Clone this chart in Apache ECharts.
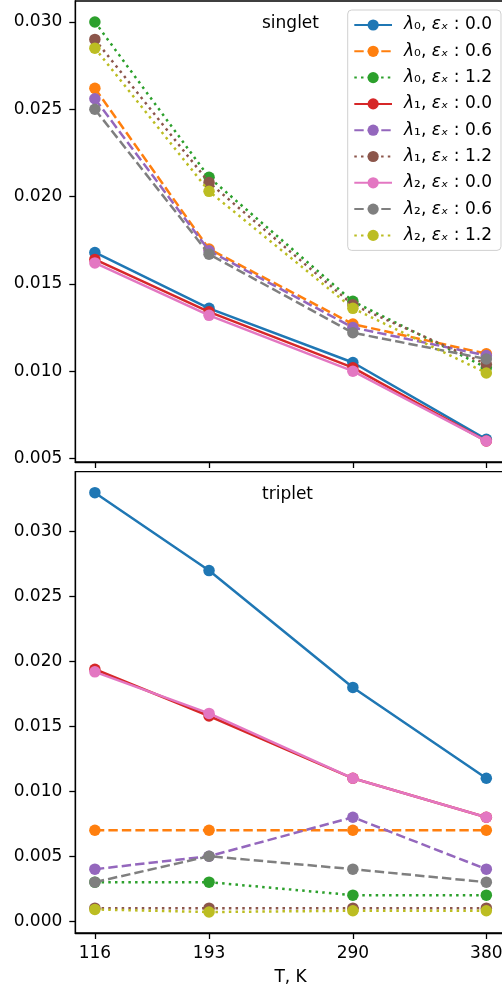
<!DOCTYPE html>
<html><head><meta charset="utf-8">
<script src="https://cdn.jsdelivr.net/npm/echarts@6/dist/echarts.min.js"></script>
<style>html,body{margin:0;padding:0;background:#fff}#c{width:502px;height:993px}</style>
</head><body><div id="c"></div>
<script>
// x values (temperature, K) and tick labels
const temperatures = [116, 193, 290, 380];
const singletTicks = [0.005, 0.010, 0.015, 0.020, 0.025, 0.030];
const tripletTicks = [0.000, 0.005, 0.010, 0.015, 0.020, 0.025, 0.030];
const lambdaSub = ['₀', '₀', '₀', '₁', '₁', '₁', '₂', '₂', '₂'];
const epsValues = ['0.0', '0.6', '1.2', '0.0', '0.6', '1.2', '0.0', '0.6', '1.2'];
const panelTitles = ['singlet', 'triplet'];

// singlet panel values
const s_l0_e00 = [0.0168, 0.0136, 0.0105, 0.0061];
const s_l0_e06 = [0.0262, 0.0170, 0.0127, 0.0110];
const s_l0_e12 = [0.0300, 0.0211, 0.0140, 0.0102];
const s_l1_e00 = [0.0164, 0.0134, 0.0102, 0.0060];
const s_l1_e06 = [0.0256, 0.0169, 0.0125, 0.0109];
const s_l1_e12 = [0.0290, 0.0208, 0.0138, 0.0104];
const s_l2_e00 = [0.0162, 0.0132, 0.0100, 0.0060];
const s_l2_e06 = [0.0250, 0.0167, 0.0122, 0.0107];
const s_l2_e12 = [0.0285, 0.0203, 0.0136, 0.0099];

// triplet panel values
const t_l0_e00 = [0.0330, 0.0270, 0.0180, 0.0110];
const t_l0_e06 = [0.0070, 0.0070, 0.0070, 0.0070];
const t_l0_e12 = [0.0030, 0.0030, 0.0020, 0.0020];
const t_l1_e00 = [0.0194, 0.0158, 0.0110, 0.0080];
const t_l1_e06 = [0.0040, 0.0050, 0.0080, 0.0040];
const t_l1_e12 = [0.0010, 0.0010, 0.0010, 0.0010];
const t_l2_e00 = [0.0192, 0.0160, 0.0110, 0.0080];
const t_l2_e06 = [0.0030, 0.0050, 0.0040, 0.0030];
const t_l2_e12 = [0.0009, 0.0007, 0.0008, 0.0008];

const singletData = [s_l0_e00, s_l0_e06, s_l0_e12, s_l1_e00, s_l1_e06, s_l1_e12, s_l2_e00, s_l2_e06, s_l2_e12];
const tripletData = [t_l0_e00, t_l0_e06, t_l0_e12, t_l1_e00, t_l1_e06, t_l1_e12, t_l2_e00, t_l2_e06, t_l2_e12];

const colors = ['#1f77b4', '#ff7f0e', '#2ca02c', '#d62728', '#9467bd', '#8c564b', '#e377c2', '#7f7f7f', '#bcbd22'];
const dashes = ['solid', [9.4, 4.1], [2.5, 4.2]];
const FONT = 'DejaVu Sans';
const seriesNames = lambdaSub.map((l, i) => 'λ' + l + ', εₓ : ' + epsValues[i]);

function makeSeries(dataArr, gi) {
  return dataArr.map((vals, i) => ({
    name: seriesNames[i],
    type: 'line',
    xAxisIndex: gi, yAxisIndex: gi,
    data: temperatures.map((t, k) => [t, vals[k]]),
    symbol: 'circle', symbolSize: 11.5, showSymbol: true,
    z: 10 + i,
    color: colors[i],
    itemStyle: { color: colors[i], borderWidth: 0 },
    lineStyle: { color: colors[i], width: 2.5, type: dashes[i % 3], cap: 'butt' },
    emphasis: { disabled: true },
    animation: false
  }));
}

const axisCommon = {
  axisLine: { show: true, onZero: false, lineStyle: { color: '#000', width: 1.3 } },
  splitLine: { show: false }
};

const chart = echarts.init(document.getElementById('c'), null, { renderer: 'canvas' });
chart.setOption({
  animation: false,
  backgroundColor: '#fff',
  textStyle: { fontFamily: FONT },
  grid: [
    { left: 75.3, top: 1, width: 430.6, height: 461, outerBoundsMode: 'none', containLabel: false, show: true, borderColor: '#000', borderWidth: 1.3, backgroundColor: 'transparent' },
    { left: 75.3, top: 471.7, width: 430.6, height: 461.3, outerBoundsMode: 'none', containLabel: false, show: true, borderColor: '#000', borderWidth: 1.3, backgroundColor: 'transparent' }
  ],
  xAxis: [
    Object.assign({ gridIndex: 0, type: 'value', min: 102.8, max: 393.2,
      axisTick: { show: true, customValues: temperatures, length: 6, lineStyle: { color: '#000', width: 1.3 } },
      axisLabel: { show: false } }, axisCommon),
    Object.assign({ gridIndex: 1, type: 'value', min: 102.8, max: 393.2,
      axisTick: { show: true, customValues: temperatures, length: 6, lineStyle: { color: '#000', width: 1.3 } },
      axisLabel: { show: true, customValues: temperatures, formatter: v => String(v), fontSize: 17, fontFamily: FONT, color: '#000', margin: 12 },
      name: 'T, K', nameLocation: 'middle', nameGap: 36,
      nameTextStyle: { fontSize: 17, fontFamily: FONT, color: '#000' } }, axisCommon)
  ],
  yAxis: [
    Object.assign({ gridIndex: 0, type: 'value', min: 0.0048, max: 0.0312,
      axisTick: { show: true, customValues: singletTicks, length: 6, lineStyle: { color: '#000', width: 1.3 } },
      axisLabel: { show: true, customValues: singletTicks, formatter: v => v.toFixed(3), fontSize: 17, fontFamily: FONT, color: '#000', margin: 13 } }, axisCommon),
    Object.assign({ gridIndex: 1, type: 'value', min: -0.000915, max: 0.034615,
      axisTick: { show: true, customValues: tripletTicks, length: 6, lineStyle: { color: '#000', width: 1.3 } },
      axisLabel: { show: true, customValues: tripletTicks, formatter: v => Math.abs(v).toFixed(3), fontSize: 17, fontFamily: FONT, color: '#000', margin: 13 } }, axisCommon)
  ],
  legend: {
    show: true,
    data: seriesNames,
    orient: 'vertical',
    left: 347.7, top: 10,
    padding: [6.5, 9, 6.5, 5.6],
    itemWidth: 37.7, itemHeight: 14, itemGap: 9.3,
    selectedMode: false,
    backgroundColor: 'rgba(255,255,255,0.8)',
    borderColor: '#d0d0d0', borderWidth: 1, borderRadius: 4,
    formatter: name => {
      const i = seriesNames.indexOf(name);
      return '{g| }{it|λ}{n|' + lambdaSub[i] + ', }{it|εₓ}{n| : ' + epsValues[i] + '}';
    },
    textStyle: {
      fontFamily: FONT, fontSize: 17, color: '#000',
      rich: {
        g: { width: 7, fontSize: 17, lineHeight: 17 },
        it: { fontStyle: 'italic', fontSize: 17, fontFamily: FONT, color: '#000', lineHeight: 17 },
        n: { fontSize: 17, fontFamily: FONT, color: '#000', lineHeight: 17 }
      }
    }
  },
  graphic: [
    { type: 'text', left: 291 - 29, top: 15, style: { text: panelTitles[0], font: '17px "DejaVu Sans"', fill: '#000' }, z: 100 },
    { type: 'text', left: 291 - 29, top: 486, style: { text: panelTitles[1], font: '17px "DejaVu Sans"', fill: '#000' }, z: 100 }
  ],
  series: makeSeries(singletData, 0).concat(makeSeries(tripletData, 1))
});
</script>
</body></html>
